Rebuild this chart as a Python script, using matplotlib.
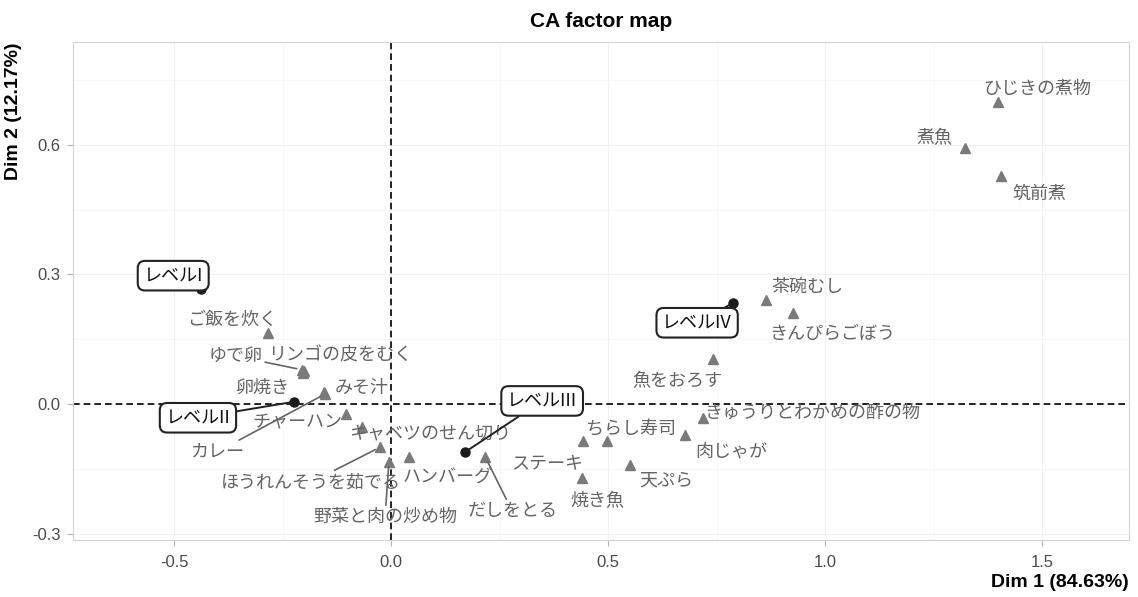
import matplotlib
matplotlib.use("Agg")
import matplotlib.pyplot as plt
from matplotlib.ticker import FixedLocator

plt.rcParams['font.family'] = ['Noto Sans CJK JP', 'DejaVu Sans']

# Row coordinates (cooking skill levels)
levels = ["レベルI", "レベルII", "レベルIII", "レベルIV"]
level_dim1 = [-0.438, -0.224, 0.171, 0.788]
level_dim2 = [0.266, 0.005, -0.111, 0.234]

# Column coordinates (dishes / tasks)
foods = ["ご飯を炊く", "ゆで卵", "リンゴの皮をむく", "卵焼き", "みそ汁", "カレー",
         "チャーハン", "キャベツのせん切り", "ほうれんそうを茹でる", "野菜と肉の炒め物",
         "ハンバーグ", "だしをとる", "ステーキ", "焼き魚", "ちらし寿司", "天ぷら",
         "肉じゃが", "きゅうりとわかめの酢の物", "魚をおろす", "茶碗むし",
         "きんぴらごぼう", "煮魚", "ひじきの煮物", "筑前煮"]
food_dim1 = [-0.283, -0.205, -0.203, -0.200, -0.154, -0.152,
             -0.104, -0.067, -0.025, -0.005,
             0.041, 0.217, 0.442, 0.440, 0.498, 0.551,
             0.677, 0.719, 0.742, 0.864,
             0.926, 1.323, 1.399, 1.406]
food_dim2 = [0.164, 0.079, 0.072, 0.076, 0.028, 0.023,
             -0.023, -0.053, -0.100, -0.134,
             -0.123, -0.123, -0.086, -0.171, -0.086, -0.141,
             -0.072, -0.032, 0.104, 0.241,
             0.211, 0.593, 0.699, 0.528]

x_ticks = [-0.5, 0.0, 0.5, 1.0, 1.5]
y_ticks = [-0.3, 0.0, 0.3, 0.6]

# Repelled label placement (offset of each label centre from its point)
level_offsets = [(-0.064, 0.031), (-0.221, -0.037), (0.177, 0.118), (-0.083, -0.046)]
food_offsets = [(-0.083, 0.030), (-0.154, 0.032), (0.085, 0.039), (-0.097, -0.039),
                (0.087, 0.009), (-0.249, -0.134), (-0.113, -0.019), (0.157, -0.014),
                (-0.159, -0.081), (-0.009, -0.128), (0.090, -0.048), (0.062, -0.125),
                (-0.083, -0.053), (0.035, -0.054), (0.055, 0.028), (0.083, -0.037),
                (0.106, -0.037), (0.251, 0.011), (-0.083, -0.051), (0.095, 0.030),
                (0.090, -0.049), (-0.070, 0.023), (0.089, 0.030), (0.087, -0.042)]
food_segment = {"ゆで卵", "カレー", "ほうれんそうを茹でる", "野菜と肉の炒め物", "だしをとる"}

label_grey = "#646464"
tri_grey = "#7a7a7a"

fig = plt.figure(figsize=(11.38, 5.97), dpi=100)
ax = fig.add_axes([0.0641, 0.0955, 0.9280, 0.8341])
ax.set_xlim(-0.733, 1.70)
ax.set_ylim(-0.315, 0.838)

# faint theme grid
ax.xaxis.set_major_locator(FixedLocator(x_ticks))
ax.yaxis.set_major_locator(FixedLocator(y_ticks))
ax.xaxis.set_minor_locator(FixedLocator([-0.25, 0.25, 0.75, 1.25]))
ax.yaxis.set_minor_locator(FixedLocator([-0.15, 0.15, 0.45, 0.75]))
ax.grid(which="major", color="#f0f0f0", lw=0.8)
ax.grid(which="minor", color="#f7f7f7", lw=0.6)
ax.set_axisbelow(True)
ax.set_xticklabels([f"{v:.1f}" for v in x_ticks])
ax.set_yticklabels([f"{v:.1f}" for v in y_ticks])
ax.tick_params(which="major", length=4, width=0.8, color="#b5b5b5",
               labelcolor="#4a4a4a", labelsize=12)
ax.tick_params(axis="x", which="major", pad=7)
ax.tick_params(axis="y", which="major", pad=5)
ax.tick_params(which="minor", length=0)
for lab in ax.get_xticklabels() + ax.get_yticklabels():
    lab.set_family("Liberation Sans")
for sp in ax.spines.values():
    sp.set_color("#d4d4d4")
    sp.set_linewidth(0.8)

# origin lines
ax.axhline(0, color="black", lw=1.2, ls=(0, (4, 2.4)), zorder=1)
ax.axvline(0, color="black", lw=1.2, ls=(0, (4, 2.4)), zorder=1)

# dishes
ax.plot(food_dim1, food_dim2, ls="none", marker="^", ms=7.5, color=tri_grey, zorder=3)
for name, x, y, (dx, dy) in zip(foods, food_dim1, food_dim2, food_offsets):
    kw = {}
    if name in food_segment:
        kw["arrowprops"] = dict(arrowstyle="-", color=label_grey, lw=1.2,
                                shrinkA=0, shrinkB=4)
    ax.annotate(name, xy=(x, y), xytext=(x + dx, y + dy), textcoords="data",
                ha="center", va="center", fontsize=13,
                color=label_grey, zorder=4, **kw)

# levels
ax.plot(level_dim1, level_dim2, ls="none", marker="o", ms=6.5, color="#1a1a1a", zorder=5)
for name, x, y, (dx, dy) in zip(levels, level_dim1, level_dim2, level_offsets):
    ax.annotate(name, xy=(x, y), xytext=(x + dx, y + dy), textcoords="data",
                ha="center", va="center", fontsize=13,
                color="#111111", zorder=6,
                bbox=dict(boxstyle="round,pad=0.32,rounding_size=0.4",
                          fc="white", ec="#222222", lw=1.5),
                arrowprops=dict(arrowstyle="-", color="#222222", lw=1.4,
                                shrinkA=0, shrinkB=2))

ax.set_title("CA factor map", fontsize=15, fontweight="bold",
             family="Liberation Sans", pad=11)
ax.set_xlabel("Dim 1 (84.63%)", fontsize=14, fontweight="bold",
              family="Liberation Sans", loc="right", labelpad=3)
ax.set_ylabel("Dim 2 (12.17%)", fontsize=14, fontweight="bold",
              family="Liberation Sans", loc="top", labelpad=7)

fig.savefig("out.png", dpi=100)
